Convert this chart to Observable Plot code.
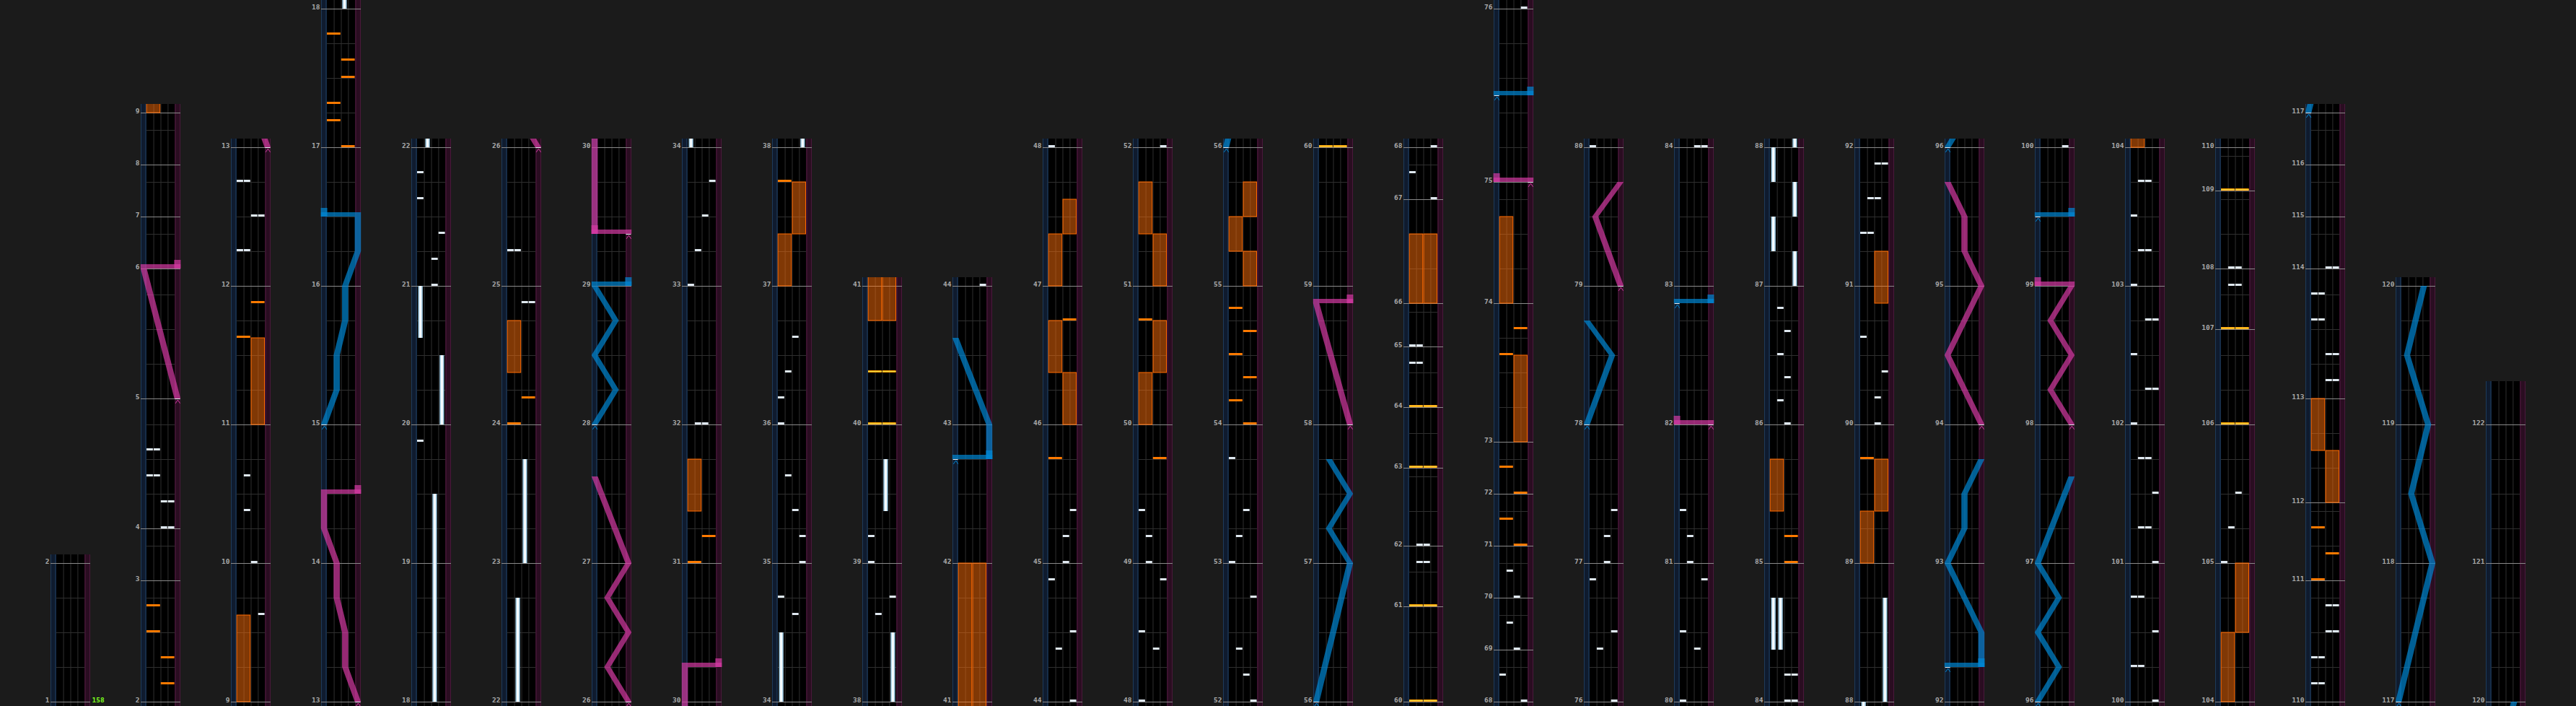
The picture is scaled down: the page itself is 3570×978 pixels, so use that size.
<!DOCTYPE html>
<html><head><meta charset="utf-8">
<script src="https://cdn.jsdelivr.net/npm/d3@7"></script>
<script src="https://cdn.jsdelivr.net/npm/@observablehq/plot@0.6"></script>
<style>
html,body{margin:0;padding:0;background:#1b1b1b;overflow:hidden}
#chart svg{display:block}
</style></head><body><div id="chart"></div>
<script>
// ---------------- DATA ----------------
// measure lengths in 16th notes, measures 1..122 (last one is the chart tail)
const measureLengths = [
  16,14,6,15,15,6,6,6,
  16,16,16,16,16,16,16,16,16,16,
  16,16,16,16,16,16,16,16,16,16,
  16,16,16,16,16,16,16,16,16,16,
  16,16,16,16,16,16,16,16,16,16,
  16,16,16,16,16,16,16,16,16,16,
  16,
  11,7,9,7,7,5,12,6,
  6,6,6,6,6,
  16,14,20,
  16,16,16,16,16,16,16,16,16,16,
  16,16,16,16,16,16,16,16,16,16,
  16,16,16,16,16,16,16,16,16,16,
  11,7,9,5,
  14,9,12,15,6,6,6,
  16,16,16,16,16,
  4
];
// first measure of each column
const columnStarts = [1,2,9,13,18,22,26,30,34,38,41,44,48,52,56,60,68,76,80,84,88,92,96,100,104,110,117,120];
// BPM marks [measure, bpm]
const bpmMarks = [[1,158]];
// BT chips [measure, sixteenth, lane]
const btChips = [
 [4,0,3],[4,0,4],[4,3,3],[4,3,4],[4,6,1],[4,6,2],[4,9,1],[4,9,2],
 [9,10,4],[10,0,3],[10,6,2],[10,10,2],[12,4,1],[12,4,2],[12,8,3],[12,8,4],[12,12,1],[12,12,2],
 [19,14,1],[21,0,3],[21,3,3],[21,6,4],[21,10,1],[21,13,1],
 [24,14,3],[24,14,4],[25,4,1],[25,4,2],
 [32,0,2],[32,0,3],[33,0,1],[33,4,2],[33,8,3],[33,12,4],
 [34,10,3],[34,12,1],[35,0,4],[35,3,4],[35,6,3],[35,10,2],[36,0,1],[36,3,1],[36,6,2],[36,10,3],
 [38,10,2],[38,12,4],[39,0,1],[39,3,1],
 [44,0,4],[44,6,2],[44,8,4],[44,14,1],[45,0,3],[45,3,3],[45,6,4],[48,0,1],
 [48,6,3],[48,8,1],[48,14,4],[49,0,2],[49,3,2],[49,6,1],[52,0,4],
 [52,3,3],[52,6,2],[52,12,4],[53,0,1],[53,3,2],[53,6,3],[53,12,1],
 [61,5,2],[61,5,3],[62,0,2],[62,0,3],[64,5,1],[64,5,2],[65,0,1],[65,0,2],[67,0,4],[67,3,1],[68,0,4],
 [68,3,1],[69,0,3],[69,3,2],[70,0,3],[70,3,2],[76,0,4],
 [76,6,2],[76,8,4],[76,14,1],[77,0,3],[77,3,3],[77,6,4],[80,0,1],
 [80,6,3],[80,8,1],[80,14,4],[81,0,2],[81,3,2],[81,6,1],[84,0,3],[84,0,4],
 [84,3,3],[84,3,4],[86,0,3],[86,8/3,2],[86,16/3,3],[86,8,2],[86,32/3,3],[86,40/3,2],
 [90,0,3],[90,3,3],[90,6,4],[90,10,1],[91,6,1],[91,6,2],[91,10,2],[91,10,3],[91,14,3],[91,14,4],
 [100,0,4],[100,4,1],[100,4,2],[100,8,4],[100,12,1],[100,12,2],[101,0,4],[101,4,2],[101,4,3],[101,8,4],[101,12,2],[101,12,3],
 [102,0,1],[102,4,3],[102,4,4],[102,8,1],[102,12,3],[102,12,4],[103,0,1],[103,4,2],[103,4,3],[103,8,1],[103,12,2],[103,12,3],
 [105,0,1],[105,4,2],[105,8,3],[107,5,2],[107,5,3],[108,0,2],[108,0,3],
 [110,2,1],[110,2,2],[110,5,1],[110,5,2],[110,8,3],[110,8,4],[110,11,3],[110,11,4],
 [113,2,3],[113,2,4],[113,5,3],[113,5,4],[113,9,1],[113,9,2],[113,12,1],[113,12,2],[114,0,3],[114,0,4]
];
// BT holds [measure, sixteenth, lane, endMeasure, endSixteenth]
const btHolds = [
 [18,0,3,19,8],[20,0,4,20,8],[20,10,1,21,0],
 [22,0,2,22,12],[23,0,3,23,12],
 [34,0,1,34,8],[38,0,4,38,8],[39,6,3,39,12],
 [84,6,1,84,12],[84,6,2,84,12],
 [87,0,4,87,4],[87,4,1,87,8],[87,8,4,87,12],[87,12,1,88,0],[88,0,4,88,12]
];
// FX chips [measure, sixteenth, side, gold]
const fxChips = [
 [2,2,"R",0],[2,5,"R",0],[2,8,"L",0],[2,11,"L",0],
 [11,10,"L",0],[11,14,"R",0],
 [17,0,"R",0],[17,3,"L",0],[17,5,"L",0],[17,8,"R",0],[17,10,"R",0],[17,13,"L",0],
 [24,0,"L",0],[24,3,"R",0],[31,0,"L",0],[31,3,"R",0],[37,12,"L",0],
 [40,0,"L",1],[40,0,"R",1],[40,6,"L",1],[40,6,"R",1],
 [45,12,"L",0],[46,12,"R",0],[49,12,"R",0],[50,12,"L",0],
 [54,0,"R",0],[54,8/3,"L",0],[54,16/3,"R",0],[54,8,"L",0],[54,32/3,"R",0],[54,40/3,"L",0],
 [60,0,"L",1],[60,0,"R",1],[61,0,"L",1],[61,0,"R",1],[63,0,"L",1],[63,0,"R",1],[64,0,"L",1],[64,0,"R",1],
 [71,0,"R",0],[71,3,"L",0],[72,0,"R",0],[72,3,"L",0],[73,10,"L",0],[73,13,"R",0],
 [85,0,"R",0],[85,3,"R",0],[89,12,"L",0],
 [106,0,"L",1],[106,0,"R",1],[107,0,"L",1],[107,0,"R",1],[109,0,"L",1],[109,0,"R",1],
 [111,0,"L",0],[111,3,"R",0],[111,6,"L",0]
];
// FX holds [measure, sixteenth, side, endMeasure, endSixteenth]
const fxHolds = [
 [9,0,"L",9,10],[11,0,"R",11,10],[24,6,"L",24,12],[31,6,"L",31,12],
 [37,0,"L",37,6],[37,6,"R",37,12],[40,12,"L",42,0],[40,12,"R",42,0],
 [46,0,"R",46,6],[46,6,"L",46,12],[47,0,"L",47,6],[47,6,"R",47,10],
 [50,0,"L",50,6],[50,6,"R",50,12],[51,0,"R",51,6],[51,6,"L",51,12],
 [55,0,"R",55,4],[55,4,"L",55,8],[55,8,"R",55,12],
 [66,0,"L",66,8],[66,0,"R",66,8],[73,0,"R",73,10],[74,0,"L",74,10],
 [85,6,"L",85,12],[89,0,"L",89,6],[89,6,"R",89,12],[90,14,"R",91,4],
 [104,0,"L",104,8],[104,8,"R",105,0],[112,0,"R",112,6],[112,6,"L",113,0]
];
// lasers: lists of [measure, sixteenth, position 0..1]; equal times = slam
const blueLasers = [
 [[15,0,0],[15,4,0.375],[15,8,0.375],[15,12,0.625],[16,0,0.625],[16,4,1],[16,8,1],[16,8,0]],
 [[28,0,0],[28,4,0.625],[28,8,0],[28,12,0.625],[29,0,0],[29,0,1]],
 [[42,12,0],[42,12,1],[43,0,1],[43,10,0]],
 [[56,0,0],[57,0,1],[57,4,0.375],[57,8,1],[57,12,0.375]],
 [[75,10,0],[75,10,1]],
 [[78,0,0],[78,8,0.75],[78,12,0]],
 [[82,14,0],[82,14,1]],
 [[92,4,0],[92,4,1],[92,8,1],[93,0,0],[93,4,0.5],[93,8,0.5],[93,12,1]],
 [[96,0,0],[96,4,0.625],[96,8,0],[96,12,0.625],[97,0,0],[97,10,1]],
 [[99,8,0],[99,8,1]],
 [[117,0,0],[118,0,1],[118,8,0.375],[119,0,0.875],[119,8,0.25],[120,0,0.75]]
];
const pinkLasers = [
 [[5,0,1],[6,0,0],[6,0,1]],
 [[13,0,1],[13,4,0.625],[13,8,0.625],[13,12,0.375],[14,0,0.375],[14,4,0],[14,8,0],[14,8,1]],
 [[26,0,1],[26,4,0.375],[26,8,1],[26,12,0.375],[27,0,1],[27,10,0]],
 [[29,6,1],[29,6,0],[30,4,0],[30,4,1]],
 [[58,0,1],[58,14,0],[58,14,1]],
 [[75,0,1],[75,0,0]],
 [[79,0,1],[79,8,0.25],[79,12,1]],
 [[82,0,1],[82,0,0]],
 [[94,0,1],[94,8,0],[95,0,1],[95,4,0.5],[95,8,0.5],[95,12,0]],
 [[98,0,1],[98,4,0.375],[98,8,1],[98,12,0.375],[99,0,1],[99,0,0]]
];

// ---------------- LAYOUT ----------------
const BG = "#1b1b1b";
const PX = 12;            // px per sixteenth
const COLW = 55, BLUE_W = 7.7, LANE_W = 9.9;
const laneLeft = l => BLUE_W + (l - 1) * LANE_W;
const laserX = p => 4.1 + 46.8 * p;
const HALF = 4.3;

const mStart = [];
let acc = 0;
measureLengths.forEach((len, i) => { mStart[i + 1] = acc; acc += len * PX; });
const chartEnd = acc;
const NM = measureLengths.length;
const T = (m, s) => mStart[m] + s * PX;

const cols = columnStarts.map((m, i) => {
  const endM = i + 1 < columnStarts.length ? columnStarts[i + 1] : NM + 1;
  const t0 = mStart[m];
  const t1 = endM <= NM ? mStart[endM] : chartEnd;
  return {col: i, m, endM, t0, t1, len: t1 - t0};
});

function place(items, a, b) {
  const out = [];
  for (const c of cols) for (const d of items) {
    const s = a(d), e = b(d);
    if (e >= c.t0 - 10 && s <= c.t1 + 14) out.push({...d, col: c.col, y1: s - c.t0, y2: e - c.t0});
  }
  return out;
}

// grid rows
const measureRows = [], beatRows = [], dividerRows = [];
for (const c of cols) {
  for (let m = c.m; m <= Math.min(c.endM, NM); m++) {
    measureRows.push({col: c.col, y: mStart[m] - c.t0, label: String(m)});
    if (m < c.endM) for (let q = 4; q < measureLengths[m - 1]; q += 4)
      beatRows.push({col: c.col, y: mStart[m] + q * PX - c.t0});
  }
  for (const x of [laneLeft(2), laneLeft(3), laneLeft(4)]) dividerRows.push({col: c.col, x, len: c.len});
}
const bpmRows = [];
for (const [m, bpm] of bpmMarks) for (const c of cols) if (m >= c.m && m < c.endM)
  bpmRows.push({col: c.col, y: mStart[m] - c.t0, label: String(bpm)});

// notes
const btChipRows = place(btChips.map(([m, s, l]) => ({t: T(m, s), l})), d => d.t, d => d.t + 3);
const btHoldRows = place(btHolds.map(([m, s, l, m2, s2]) => ({t: T(m, s), t2: T(m2, s2), l})), d => d.t, d => d.t2);
const fxChipRows = place(fxChips.map(([m, s, side, g]) => ({t: T(m, s), l: side === "L" ? 1 : 3, g})), d => d.t, d => d.t + 3);
const fxHoldRows = place(fxHolds.map(([m, s, side, m2, s2]) => ({t: T(m, s), t2: T(m2, s2), l: side === "L" ? 1 : 3})), d => d.t, d => d.t2);

// lasers -> sections, slams, start markers
function buildLasers(list, tag) {
  const secs = [], slams = [], starts = [];
  list.forEach((pts, li) => {
    const P = pts.map(([m, s, p]) => ({t: T(m, s), p}));
    starts.push({t: P[0].t, p: P[0].p, id: tag + li});
    let cur = [P[0]], si = 0;
    for (let i = 1; i < P.length; i++) {
      if (P[i].t === P[i - 1].t) {
        slams.push({t: P[i].t, p0: P[i - 1].p, p1: P[i].p});
        if (cur.length > 1) secs.push({id: tag + li + "_" + si++, pts: cur});
        cur = [P[i]];
      } else cur.push(P[i]);
    }
    if (cur.length > 1) secs.push({id: tag + li + "_" + si++, pts: cur});
  });
  const areaRows = [];
  for (const c of cols) for (const sec of secs) {
    const a = sec.pts[0].t, b = sec.pts[sec.pts.length - 1].t;
    if (b >= c.t0 - 10 && a <= c.t1 + 14)
      for (const q of sec.pts) areaRows.push({col: c.col, z: sec.id + "@" + c.col, y: q.t - c.t0, xl: laserX(q.p) - HALF, xr: laserX(q.p) + HALF});
  }
  const slamRows = place(slams, d => d.t, d => d.t + 12);
  const startRows = place(starts, d => d.t - 6, d => d.t);
  return {areaRows, slamRows, startRows};
}
const blue = buildLasers(blueLasers, "b"), pink = buildLasers(pinkLasers, "p");
const BLUE = "rgb(0,136,212)", PINK = "rgb(214,58,164)", LOP = 0.7;

function laserMarks(L, color) {
  const chev = [];
  for (const d of L.startRows) {
    const cx = laserX(d.p), y = d.y2;
    for (const [dx, dy] of [[-3, -6], [0, -1.5], [3, -6]]) chev.push({col: d.col, z: d.id + "@" + d.col, x: cx + dx, y: y + dy});
  }
  return [
    Plot.areaX(L.areaRows, {fx: "col", y: "y", x1: "xl", x2: "xr", z: "z", fill: color, fillOpacity: LOP}),
    Plot.rect(L.slamRows, {fx: "col", x1: d => Math.min(laserX(d.p0), laserX(d.p1)) - HALF, x2: d => Math.max(laserX(d.p0), laserX(d.p1)) + HALF,
      y1: "y1", y2: d => d.y1 + 6, fill: color, fillOpacity: LOP}),
    Plot.rect(L.slamRows, {fx: "col", x1: d => laserX(d.p1) - 4.5, x2: d => laserX(d.p1) + 4.5,
      y1: "y1", y2: d => d.y1 + 12, fill: color, fillOpacity: LOP}),
    Plot.rect(L.startRows, {fx: "col", x1: d => laserX(d.p) - 3.5, x2: d => laserX(d.p) + 3.5, y1: d => d.y2 - 1, y2: "y2", fill: "#e8eef4"}),
    Plot.line(chev, {fx: "col", x: "x", y: "y", z: "z", stroke: color, strokeWidth: 1})
  ];
}

const colTop = d => d.len + 12;
const marks = [
  // column body
  Plot.rect(cols, {fx: "col", x1: () => 0, x2: () => COLW, y1: () => -12, y2: colTop, fill: "#000"}),
  Plot.rect(cols, {fx: "col", x1: () => 0, x2: () => BLUE_W, y1: () => -12, y2: colTop, fill: "#0f1b2e"}),
  Plot.rect(cols, {fx: "col", x1: () => COLW - BLUE_W, x2: () => COLW, y1: () => -12, y2: colTop, fill: "#2a0d21"}),
  Plot.rect(cols, {fx: "col", x1: () => 0, x2: () => 1, y1: () => -12, y2: colTop, fill: "#1d3a5a"}),
  Plot.rect(cols, {fx: "col", x1: () => BLUE_W - 1.3, x2: () => BLUE_W, y1: () => -12, y2: colTop, fill: "#1d3a5a"}),
  Plot.rect(cols, {fx: "col", x1: () => COLW - BLUE_W, x2: () => COLW - BLUE_W + 1.3, y1: () => -12, y2: colTop, fill: "#4a183b"}),
  Plot.rect(cols, {fx: "col", x1: () => COLW - 1, x2: () => COLW, y1: () => -12, y2: colTop, fill: "#4a183b"}),
  // grid
  Plot.ruleX(dividerRows, {fx: "col", x: "x", y1: () => -12, y2: d => d.len + 12, stroke: "#2f2f2f", strokeWidth: 1}),
  Plot.ruleY(beatRows, {fx: "col", y: "y", x1: () => BLUE_W, x2: () => COLW - BLUE_W, stroke: "#2f2f2f", strokeWidth: 1}),
  Plot.ruleY(measureRows, {fx: "col", y: "y", x1: () => 0, x2: () => COLW, stroke: "#8a8a8a", strokeWidth: 1}),
  // FX holds
  Plot.rect(fxHoldRows, {fx: "col", x1: d => laneLeft(d.l) + 0.5, x2: d => laneLeft(d.l + 2) - 0.8, y1: "y1", y2: "y2",
    fill: "#ff6f0a", fillOpacity: 0.5, stroke: "#ff6a00", strokeWidth: 1}),
  // BT holds
  Plot.rect(btHoldRows, {fx: "col", x1: d => laneLeft(d.l) + 1.8, x2: d => laneLeft(d.l) + 8.1, y1: "y1", y2: "y2", fill: "#9ec8e0"}),
  Plot.rect(btHoldRows, {fx: "col", x1: d => laneLeft(d.l) + 3.4, x2: d => laneLeft(d.l) + 6.5, y1: "y1", y2: "y2", fill: "#f6fbff"}),
  // FX chips
  Plot.rect(fxChipRows, {fx: "col", x1: d => laneLeft(d.l) + 0.3, x2: d => laneLeft(d.l + 2) - 0.7, y1: "y1", y2: "y2",
    fill: d => d.g ? "#ffa000" : "#ff7a00"}),
  Plot.rect(fxChipRows.filter(d => d.g), {fx: "col", x1: d => laneLeft(d.l) + 0.3, x2: d => laneLeft(d.l + 2) - 0.7, y1: d => d.y1 + 1, y2: d => d.y1 + 2,
    fill: "#ffd84a"}),
  // BT chips
  Plot.rect(btChipRows, {fx: "col", x1: d => laneLeft(d.l) + 0.3, x2: d => laneLeft(d.l + 1) - 0.7, y1: "y1", y2: "y2", fill: "#dfe8f0"}),
  // lasers
  ...laserMarks(blue, BLUE),
  ...laserMarks(pink, PINK),
  // mask above column top
  Plot.rect(cols, {fx: "col", x1: () => -1, x2: () => COLW + 1, y1: colTop, y2: () => 1200, fill: BG}),
  // labels
  Plot.text(measureRows, {fx: "col", x: () => 0, y: "y", text: "label", textAnchor: "end", lineAnchor: "bottom", dx: -2,
    fill: "#a9a9a9", fontSize: 9.5, fontWeight: "bold", fontFamily: "DejaVu Sans Mono"}),
  Plot.text(bpmRows, {fx: "col", x: () => COLW, y: "y", text: "label", textAnchor: "start", lineAnchor: "bottom", dx: 2,
    fill: "#7cff1e", fontSize: 9.5, fontWeight: "bold", fontFamily: "DejaVu Sans Mono"})
];

const chart = Plot.plot({
  width: 3570, height: 978,
  marginLeft: 70, marginRight: 70, marginTop: 0, marginBottom: 0,
  style: {background: BG, overflow: "hidden"},
  fx: {domain: d3.range(cols.length), paddingInner: 0.56, paddingOuter: 0, axis: null, label: null},
  x: {domain: [0, COLW], axis: null},
  y: {domain: [-6, 972], range: [978, 0], axis: null},
  color: {type: "identity"},
  marks
});
document.getElementById("chart").appendChild(chart);
</script>
</body></html>
